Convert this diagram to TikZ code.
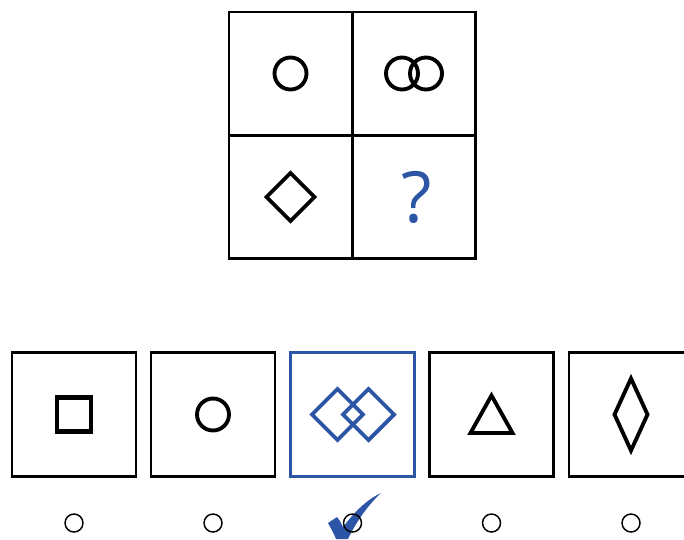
\documentclass[tikz,border=0pt]{standalone}
\usepackage{fontspec}
\newfontfamily\qfont{Open Sans}
\usetikzlibrary{shapes.geometric, positioning, calc}
\definecolor{answerBlue}{HTML}{2C55A6}
\tikzset{
  cell/.style={draw, line width=1.9pt, minimum size=92.25pt, inner sep=0pt, outer sep=0pt},
  option/.style={draw=#1, line width=1.9pt, minimum size=93pt, inner sep=0pt},
  glyph/.style={draw=#1, line width=2.9pt, line join=miter},
  radio/.style={draw, line width=1.1pt, circle, minimum size=13.5pt, inner sep=0pt},
}

\begin{document}
\begin{tikzpicture}[x=0.75pt, y=-0.75pt]
\useasboundingbox (0,0) rectangle (684,539);
\clip (0,0) rectangle (684,539);
% the 2x2 puzzle
\node[cell] (tl) at (290.5,73.5) {};
\node[cell] (tr) at (414,73.5) {};
\node[cell] (bl) at (290.5,197) {};
\node[cell] (br) at (414,197) {};
\draw[glyph=black] (tl.center) circle (16);
\draw[glyph=black] ([xshift=-9pt]tr.center) circle (16);
\draw[glyph=black] ([xshift=9pt]tr.center) circle (16);
\draw[glyph=black] ($(bl.center)+(0,-24)$) -- ++(24,24) -- ++(-24,24) -- ++(-24,-24) -- cycle;
\node[font=\qfont\fontsize{53}{53}\selectfont, text=answerBlue] (ask) at ([xshift=2.3pt]br.center) {?};
% answer choices
\foreach \i/\x/\c in {1/74/black, 2/213/black, 3/352.5/answerBlue, 4/491.5/black, 5/631/black}
  \node[option=\c] (opt\i) at (\x,414.5) {};
\draw[black, line width=3.4pt] ([shift={(-12.75pt,-12.75pt)}]opt1.center) rectangle ([shift={(12.75pt,12.75pt)}]opt1.center);
\draw[glyph=black] (opt2.center) circle (16);
\draw[glyph=answerBlue] ($(opt3.center)+(-15,-25.5)$) -- ++(25.5,25.5) -- ++(-25.5,25.5) -- ++(-25.5,-25.5) -- cycle;
\draw[glyph=answerBlue] ($(opt3.center)+(16,-25.5)$) -- ++(25.5,25.5) -- ++(-25.5,25.5) -- ++(-25.5,-25.5) -- cycle;
\draw[glyph=black] ($(opt4.center)+(0,-19)$) -- ++(21,37.5) -- ++(-42,0) -- cycle;
\draw[glyph=black] ($(opt5.center)+(0,-36)$) -- ++(16.5,36) -- ++(-16.5,36) -- ++(-16.5,-36) -- cycle;
% the tick under the right answer
\fill[answerBlue] (328,523) -- (337,517) .. controls (340,521) .. (343,527)
  .. controls (356,510) and (368,499) .. (381,493)
  .. controls (370,503) and (357,520) .. (348,539) -- (336,539) .. controls (333,532) .. cycle;
% radio buttons
\foreach \i/\x in {1/74, 2/213, 3/352.5, 4/491.5, 5/631}
  \node[radio] (r\i) at (\x,523) {};
\end{tikzpicture}
\end{document}
